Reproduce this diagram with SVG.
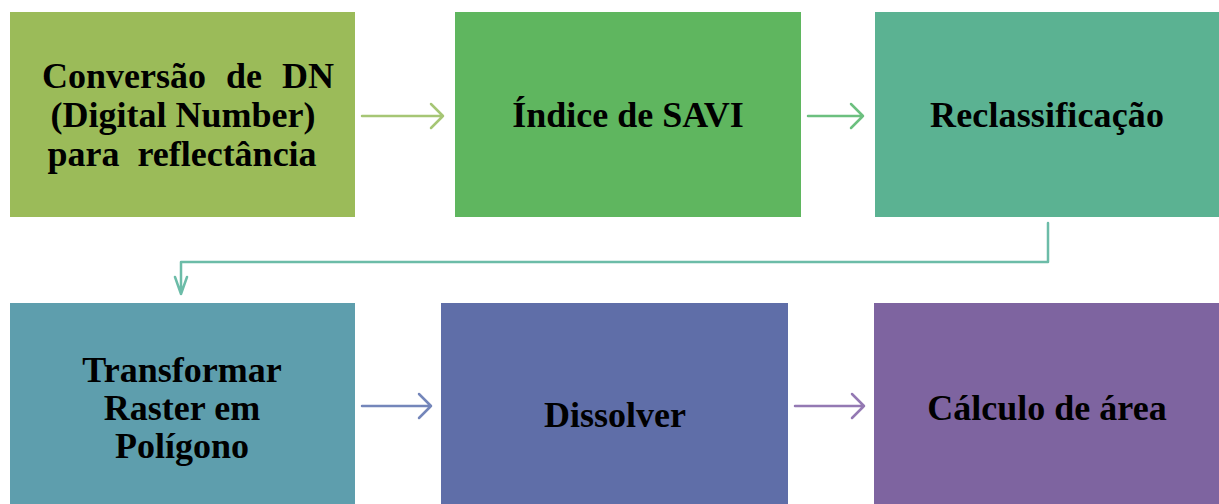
<svg xmlns="http://www.w3.org/2000/svg" width="1219" height="504" viewBox="0 0 1219 504">
<style>
.lbl{font-family:"Liberation Serif","Times New Roman",serif;font-weight:bold;font-size:36px;fill:#000;text-anchor:middle}
.ar{fill:none;stroke-width:2.5;stroke-linecap:round;stroke-linejoin:round}
</style>
<rect width="1219" height="504" fill="#fff"/>
<g id="n1"><rect x="10" y="12" width="345" height="205" fill="#9BBB59"/>
<text class="lbl" x="188" y="88" word-spacing="11">Conversão de DN</text>
<text class="lbl" x="183" y="127">(Digital Number)</text>
<text class="lbl" x="182" y="166" word-spacing="9">para reflectância</text></g>
<g id="n2"><rect x="455" y="12" width="346" height="205" fill="#5FB65F"/>
<text class="lbl" x="628" y="127">Índice de SAVI</text></g>
<g id="n3"><rect x="875" y="12" width="344" height="205" fill="#5BB292"/>
<text class="lbl" x="1047" y="127" textLength="234" lengthAdjust="spacing">Reclassificação</text></g>
<g id="n4"><rect x="10" y="303" width="345" height="205" fill="#5E9EAD"/>
<text class="lbl" x="182" y="382">Transformar</text>
<text class="lbl" x="182" y="420">Raster em</text>
<text class="lbl" x="182" y="458">Polígono</text></g>
<g id="n5"><rect x="441" y="303" width="347" height="205" fill="#5F6EA8"/>
<text class="lbl" x="615" y="427">Dissolver</text></g>
<g id="n6"><rect x="874" y="303" width="345" height="205" fill="#7E64A0"/>
<text class="lbl" x="1047" y="420">Cálculo de área</text></g>
<g id="connectors">
<path class="ar" stroke="#A6C675" d="M362,116 H443 M431,104 L443,116 L431,128"/>
<path class="ar" stroke="#6CC07F" d="M808,116 H863 M851,104 L863,116 L851,128"/>
<path class="ar" stroke="#6CBCA8" d="M1048,223 V262 H181 V294 M175,277 L181,294 L187,277"/>
<path class="ar" stroke="#7486BA" d="M362,406 H431 M419,394 L431,406 L419,418"/>
<path class="ar" stroke="#9479B3" d="M795,406 H864 M852,394 L864,406 L852,418"/>
</g>
</svg>
